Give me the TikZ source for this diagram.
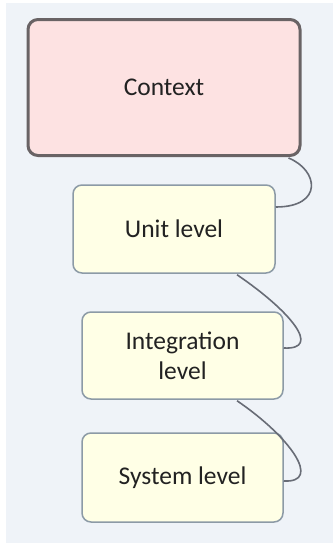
\documentclass[tikz,border=0pt]{standalone}
\usepackage{fontspec}
\setmainfont{Carlito}
\usetikzlibrary{calc}
\definecolor{panel}{HTML}{EFF3F8}
\definecolor{ctxfill}{HTML}{FDE2E2}
\definecolor{ctxline}{HTML}{696365}
\definecolor{lvlfill}{HTML}{FFFFE6}
\definecolor{lvlline}{HTML}{8C9AA6}
\definecolor{conn}{HTML}{686C76}
\definecolor{txt}{HTML}{222222}
\tikzset{
  ctxbox/.style={draw=ctxline, line width=3pt, fill=ctxfill, rounded corners=10pt, inner sep=0pt, text=txt},
  lvlbox/.style={draw=lvlline, line width=1.5pt, fill=lvlfill, rounded corners=9pt, inner sep=0pt, text=txt, align=center},
  link/.style={draw=conn, line width=1.6pt}
}
\begin{document}
\begin{tikzpicture}[x=1pt,y=-1pt, font=\fontsize{25.5}{30}\selectfont]
\useasboundingbox (0,0) rectangle (333,552);
\fill[panel] (6,3) rectangle (333,543);
\node[ctxbox, minimum width=272pt, minimum height=136pt] (ctx) at (164,87.5) {Context};
\node[lvlbox, minimum width=202pt, minimum height=88pt] (unit) at (174,229) {Unit level};
\node[lvlbox, minimum width=201pt, minimum height=87pt] (integ) at (182.5,355.5) {Integration\\level};
\node[lvlbox, minimum width=201pt, minimum height=89pt] (sys) at (182.5,477.5) {System level};
\draw[link] ($(ctx.south east)+(-13,1)$) .. controls ($(ctx.south east)+(17,13)$) and ($(unit.east)+(48,-22)$) .. ($(unit.east)+(0,-22)$);
\draw[link] ($(unit.south)+(63,1)$) .. controls ($(unit.south)+(116,37)$) and ($(integ.east)+(39,-5.5)$) .. ($(integ.east)+(0,-7.5)$);
\draw[link] ($(integ.south)+(54.5,1)$) .. controls ($(integ.south)+(107.5,37)$) and ($(sys.east)+(39,5.5)$) .. ($(sys.east)+(0,3.5)$);
\end{tikzpicture}
\end{document}
